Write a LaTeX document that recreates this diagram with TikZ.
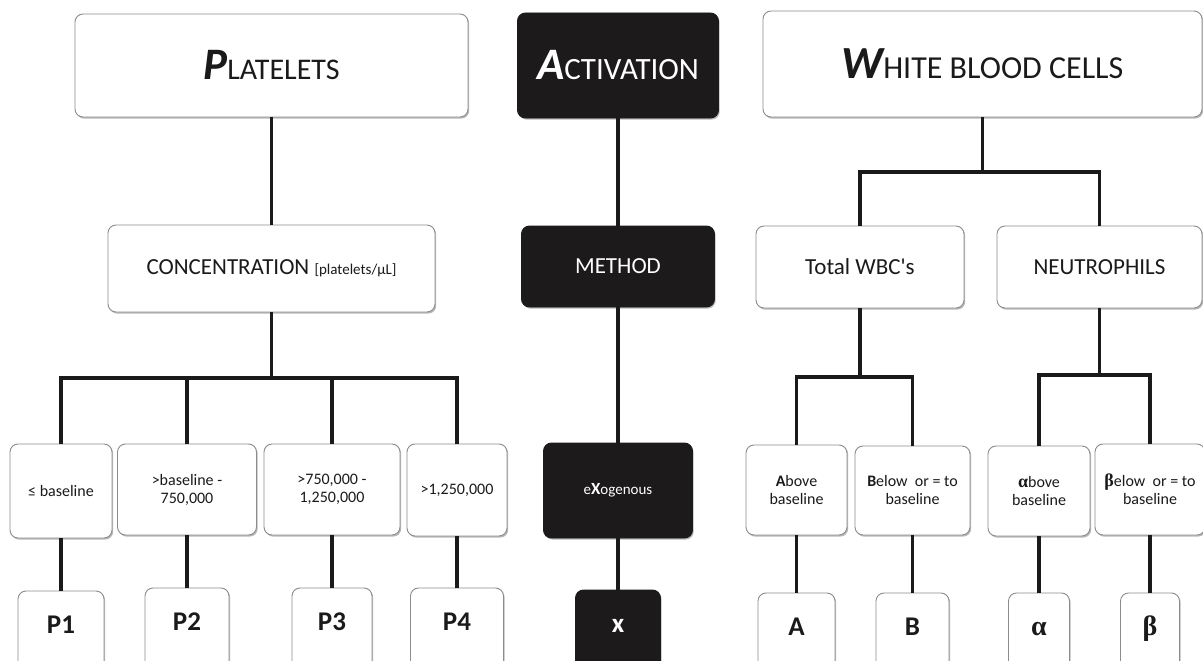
\documentclass[tikz,border=0pt]{standalone}
\usepackage{fontspec}
\setmainfont{Carlito}
\newfontfamily\greekserif{Liberation Serif}
\newfontfamily\nomapfont{Carlito}[Ligatures=TeXOff]
\usetikzlibrary{shadows}
\definecolor{ink}{HTML}{1A1A1A}
\definecolor{boxline}{HTML}{8C8C8C}
\definecolor{darkfill}{HTML}{1C1A1A}
\begin{document}
\begin{tikzpicture}[x=1pt,y=-1pt,
  sz/.style 2 args={minimum width=#1pt, minimum height=#2pt},
  shad/.style={drop shadow={shadow xshift=1.2pt, shadow yshift=-1.6pt, opacity=0.28, fill=black}},
  wbox/.style={draw=boxline, line width=0.9pt, fill=white, rounded corners=8pt,
    inner sep=0pt, align=center, text=ink, shad},
  bbox/.style={draw=darkfill, line width=0.9pt, fill=darkfill, rounded corners=8pt,
    inner sep=0pt, align=center, text=white, shad},
  midtxt/.style={font=\fontsize{23}{27}\selectfont},
  smalltxt/.style={font=\fontsize{16}{18}\selectfont},
  endtxt/.style={font=\fontsize{27}{30}\selectfont\bfseries, text height=18pt, text depth=33pt},
  conn/.style={draw=ink, line width=3.2pt, line join=miter}
]
\useasboundingbox (0,0) rectangle (1203,661);
\clip (0,0) rectangle (1203,661);
\fill[white] (0,0) rectangle (1203,661);

% top row
\node[wbox, sz={393}{103}] (plat) at (271.5,65.5)
  {{\fontsize{45}{50}\selectfont\bfseries\itshape P}{\fontsize{30}{36}\selectfont LATELETS}};
\node[bbox, sz={201}{105}] (act) at (618,65.5)
  {{\fontsize{45}{50}\selectfont\bfseries\itshape A}{\fontsize{31}{36}\selectfont CTIVATION}};
\node[wbox, sz={439}{106}] (wbc) at (982.5,64)
  {{\fontsize{46}{50}\selectfont\bfseries\itshape W}{\fontsize{32}{36}\selectfont HITE BLOOD CELLS}};

% second row
\node[wbox, midtxt, sz={327}{87}] (conc) at (271.5,268.5)
  {CONCENTRATION {\fontsize{15}{18}\selectfont [platelets/µL]}};
\node[bbox, midtxt, sz={193}{81}] (meth) at (618,266.5) {METHOD};
\node[wbox, midtxt, sz={208}{82}] (tot) at (860,267) {Total WBC{\nomapfont '}s};
\node[wbox, midtxt, sz={205}{82}] (neu) at (1099.5,267) {NEUTROPHILS};

% third row
\node[wbox, smalltxt, sz={102}{94}] (b1) at (61,491) {≤ baseline};
\node[wbox, smalltxt, sz={139}{91}] (b2) at (187,489.5) {>baseline -\\750,000};
\node[wbox, smalltxt, sz={136}{91}] (b3) at (332,489.5) {>750,000 -\\1,250,000};
\node[wbox, smalltxt, sz={100}{92}] (b4) at (457,490) {>1,250,000};
\node[bbox, font=\fontsize{15}{18}\selectfont, sz={149}{95}] (exo) at (618,490.5)
  {e{\fontsize{17}{18}\selectfont\bfseries X}ogenous};
\node[wbox, smalltxt, sz={101}{90}] (ab) at (796.5,490) {\textbf{A}bove\\baseline};
\node[wbox, smalltxt, sz={115}{89}] (bl) at (912.5,490.5) {\textbf{B}elow\ \ or = to\\baseline};
\node[wbox, smalltxt, sz={102}{90}] (al) at (1039,491)
  {{\greekserif\bfseries\fontsize{18}{18}\selectfont α}bove\\baseline};
\node[wbox, smalltxt, sz={110}{91}] (be) at (1150,489.5)
  {{\greekserif\bfseries\fontsize{18}{18}\selectfont β}elow\ \ or = to\\baseline};

% bottom row (cut by the lower edge)
\node[wbox, endtxt, sz={86}{100}] (p1) at (61,641) {P1};
\node[wbox, endtxt, sz={84}{100}] (p2) at (187,638) {P2};
\node[wbox, endtxt, sz={80}{100}] (p3) at (332,638) {P3};
\node[wbox, endtxt, sz={93}{100}] (p4) at (457,638) {P4};
\node[bbox, endtxt, sz={85}{100}] (xx) at (618,640) {x};
\node[wbox, endtxt, sz={77}{100}] (na) at (796.5,643) {A};
\node[wbox, endtxt, sz={73}{100}] (nb) at (912.5,643) {B};
\node[wbox, endtxt, font=\fontsize{28}{30}\selectfont\greekserif\bfseries, sz={61}{100}] (nal) at (1039,643) {α};
\node[wbox, endtxt, font=\fontsize{28}{30}\selectfont\greekserif\bfseries, sz={59}{100}] (nbe) at (1150,643) {β};

% bus coordinates
\coordinate (pbus) at (271.5,378);
\coordinate (wbus) at (982.5,172);
\coordinate (tbus) at (860,377);
\coordinate (nbus) at (1099.5,375);

% platelets
\draw[conn] (plat.south) -- (conc.north);
\draw[conn] (conc.south) -- (pbus);
\draw[conn] (b1.north) |- (pbus) -| (b4.north);
\draw[conn] (b2.north) -- (b2.north |- pbus);
\draw[conn] (b3.north) -- (b3.north |- pbus);
\draw[conn] (b1.south) -- (p1.north);
\draw[conn] (b2.south) -- (p2.north);
\draw[conn] (b3.south) -- (p3.north);
\draw[conn] (b4.south) -- (p4.north);

% activation
\draw[conn] (act.south) -- (meth.north);
\draw[conn] (meth.south) -- (exo.north);
\draw[conn] (exo.south) -- (xx.north);

% white blood cells
\draw[conn] (wbc.south) -- (wbus);
\draw[conn] (tot.north) |- (wbus) -| (neu.north);
\draw[conn] (tot.south) -- (tbus);
\draw[conn] (ab.north) |- (tbus) -| (bl.north);
\draw[conn] (neu.south) -- (nbus);
\draw[conn] (al.north) |- (nbus) -| (be.north);
\draw[conn] (ab.south) -- (na.north);
\draw[conn] (bl.south) -- (nb.north);
\draw[conn] (al.south) -- (nal.north);
\draw[conn] (be.south) -- (nbe.north);
\end{tikzpicture}
\end{document}
